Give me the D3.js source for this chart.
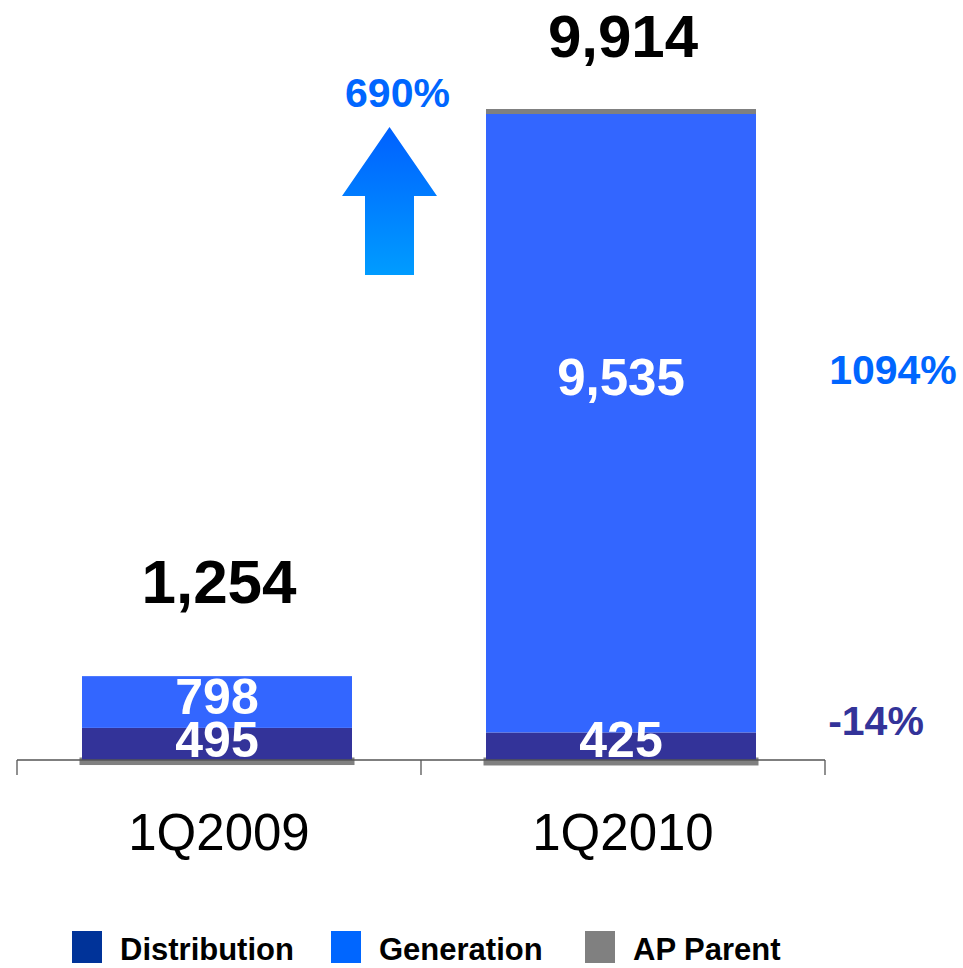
<!DOCTYPE html>
<html>
<head>
<meta charset="utf-8">
<script src="https://cdn.jsdelivr.net/npm/d3@7/dist/d3.min.js"></script>
<style>
  html, body { margin: 0; padding: 0; background: #fff; }
  svg { display: block; font-family: "Liberation Sans", Arial, sans-serif; }
</style>
</head>
<body>
<svg id="chart" width="963" height="968"></svg>
<script>
const categories = ["1Q2009", "1Q2010"];
const distribution = [495, 425];
const generation = [798, 9535];
const apParent = [-39, -46];
const totals = ["1,254", "9,914"];
const distLabels = ["495", "425"];
const genLabels = ["798", "9,535"];
const totalChange = "690%";
const genChange = "1094%";
const distChange = "-14%";
const legendItems = ["Distribution", "Generation", "AP Parent"];

const colors = {
  dist: "#333399", gen: "#3366ff", ap: "#808080",
  legDist: "#003399", legGen: "#0066ff", legAp: "#808080"
};

const svg = d3.select("#chart");

const x = d3.scaleBand().domain(categories).range([17, 825]).padding(0);
const y = d3.scaleLinear().domain([0, 9960]).range([760, 114]);
const barW = 270;

// gradient for arrow
const defs = svg.append("defs");
const grad = defs.append("linearGradient").attr("id", "arrowGrad")
  .attr("x1", 0).attr("y1", 0).attr("x2", 0).attr("y2", 1);
grad.append("stop").attr("offset", "0%").attr("stop-color", "#0060ff");
grad.append("stop").attr("offset", "100%").attr("stop-color", "#009cff");

const g = svg.append("g");

categories.forEach((c, i) => {
  const cx = x(c) + x.bandwidth() / 2 - 2;
  const x0 = cx - barW / 2;
  // AP Parent (negative, below zero)
  g.append("rect")
    .attr("x", x0).attr("width", barW)
    .attr("y", y(0)).attr("height", y(apParent[i]) - y(0))
    .attr("fill", colors.ap).attr("stroke", colors.ap).attr("stroke-width", 5);
  // Distribution
  g.append("rect")
    .attr("x", x0).attr("width", barW)
    .attr("y", y(distribution[i])).attr("height", y(0) - y(distribution[i]))
    .attr("fill", colors.dist);
  // Generation
  g.append("rect")
    .attr("x", x0).attr("width", barW)
    .attr("y", y(distribution[i] + generation[i]))
    .attr("height", y(distribution[i]) - y(distribution[i] + generation[i]))
    .attr("fill", colors.gen);
});

// gray cap on the tall bar
{
  const i = 1, c = categories[i];
  const cx = x(c) + x.bandwidth() / 2 - 2;
  const top = y(distribution[i] + generation[i]);
  g.append("rect").attr("x", cx - barW / 2).attr("width", barW)
    .attr("y", top - 5).attr("height", 5).attr("fill", colors.ap);
}

// axis
const axisG = svg.append("g");
axisG.append("line").attr("x1", 17).attr("x2", 825).attr("y1", 760).attr("y2", 760)
  .attr("stroke", "#555").attr("stroke-width", 1.3);
const tickXs = [x(categories[0]), x(categories[1]), x(categories[1]) + x.bandwidth()];
tickXs.forEach(tx => {
  axisG.append("line").attr("x1", tx).attr("x2", tx).attr("y1", 760).attr("y2", 775)
    .attr("stroke", "#555").attr("stroke-width", 1.3);
});

// category labels
categories.forEach(c => {
  svg.append("text").attr("x", x(c) + x.bandwidth() / 2).attr("y", 850)
    .attr("text-anchor", "middle").attr("font-size", 51).attr("fill", "#000").text(c);
});

// value labels in bars
const genBase = [714, 395];
categories.forEach((c, i) => {
  const cx = x(c) + x.bandwidth() / 2 - 2;
  svg.append("text").attr("x", cx).attr("y", genBase[i]).attr("text-anchor", "middle")
    .attr("font-size", i === 0 ? 50 : 51).attr("font-weight", "bold").attr("fill", "#fff")
    .text(genLabels[i]);
  svg.append("text").attr("x", cx).attr("y", 757).attr("text-anchor", "middle")
    .attr("font-size", 50).attr("font-weight", "bold").attr("fill", "#fff")
    .text(distLabels[i]);
});

// totals
const totalY = [603, 57];
categories.forEach((c, i) => {
  const cx = x(c) + x.bandwidth() / 2 - 2;
  svg.append("text").attr("x", cx + 2).attr("y", totalY[i]).attr("text-anchor", "middle")
    .attr("font-size", i === 0 ? 62 : 60).attr("font-weight", "bold").attr("fill", "#000")
    .text(totals[i]);
});

// arrow
const ax = 389.5;
const arrowPts = [[ax, 127], [ax + 47.5, 196], [ax + 24.5, 196], [ax + 24.5, 275],
                  [ax - 24.5, 275], [ax - 24.5, 196], [ax - 47.5, 196]];
svg.append("path").attr("d", d3.line()(arrowPts) + "Z").attr("fill", "url(#arrowGrad)");

// percentages
svg.append("text").attr("x", 397.5).attr("y", 107).attr("text-anchor", "middle")
  .attr("font-size", 41).attr("font-weight", "bold").attr("fill", "#0066ff").text(totalChange);
svg.append("text").attr("x", 893).attr("y", 384).attr("text-anchor", "middle")
  .attr("font-size", 41).attr("font-weight", "bold").attr("fill", "#0066ff").text(genChange);
svg.append("text").attr("x", 876).attr("y", 735).attr("text-anchor", "middle")
  .attr("font-size", 41).attr("font-weight", "bold").attr("fill", "#333399").text(distChange);

// legend
const legColors = [colors.legDist, colors.legGen, colors.legAp];
const legX = [72, 331, 585];
legendItems.forEach((t, i) => {
  svg.append("rect").attr("x", legX[i]).attr("y", 931).attr("width", 30).attr("height", 32)
    .attr("fill", legColors[i]);
  svg.append("text").attr("x", legX[i] + 48).attr("y", 960)
    .attr("font-size", 31).attr("font-weight", "bold").attr("fill", "#000").text(t);
});
</script>
</body>
</html>
